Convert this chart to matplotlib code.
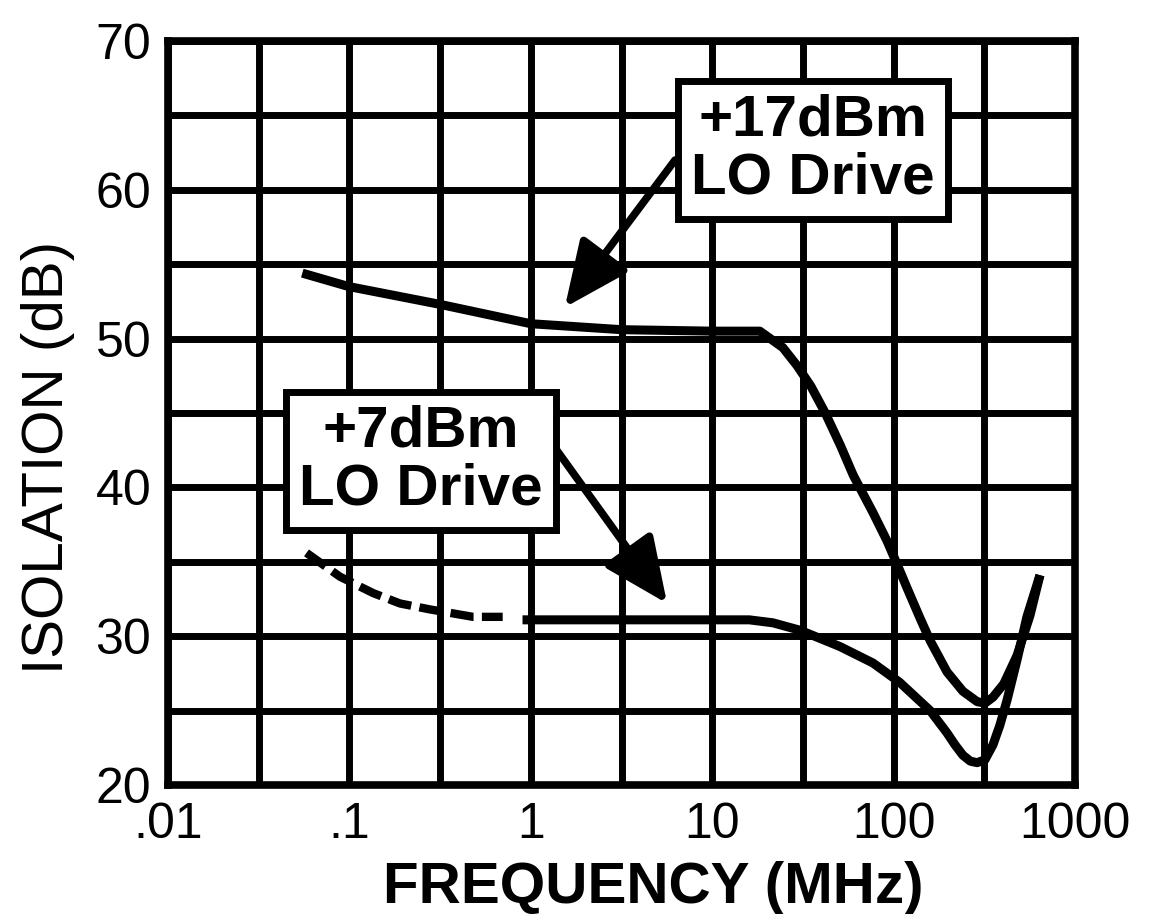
import matplotlib
matplotlib.use("Agg")
import numpy as np
import matplotlib.pyplot as plt
from matplotlib.ticker import FixedLocator, NullFormatter

plt.rcParams['font.family'] = ['Liberation Sans', 'DejaVu Sans']

# +17dBm LO drive
freq17 = [0.055, 0.099, 0.316, 1.0, 3.16, 10, 18.3, 24.5, 29.3, 35, 42, 51, 60, 77, 92,
          104, 119, 140, 159, 197, 241, 289, 319, 353, 405, 479, 565, 641]
iso17 = [54.4, 53.5, 52.3, 51.0, 50.6, 50.5, 50.5, 49.4, 48.2, 46.8, 45.0, 42.8, 40.8,
         38.3, 36.4, 34.9, 33.2, 31.2, 29.7, 27.6, 26.3, 25.6, 25.5, 25.9, 26.8, 28.7,
         31.4, 34.1]

# +7dBm LO drive (dashed below ~1MHz)
freq7_dash = [0.058, 0.0887, 0.135, 0.19, 0.278, 0.48, 0.70]
iso7_dash = [35.6, 34.0, 32.9, 32.2, 31.8, 31.3, 31.3]
freq7 = [0.90, 3.16, 10, 16, 21.6, 30.5, 50.7, 76.9, 108, 159, 197, 218, 241, 265, 289,
         319, 353, 385, 422, 479, 543, 641]
iso7 = [31.1, 31.1, 31.1, 31.1, 30.9, 30.4, 29.3, 28.2, 26.9, 25.0, 23.5, 22.7, 22.0,
        21.6, 21.5, 21.7, 22.7, 24.0, 25.7, 28.4, 31.3, 34.1]

xticks = [0.01, 0.1, 1, 10, 100, 1000]
xticklabels = ['.01', '.1', '1', '10', '100', '1000']
yticks = [20, 30, 40, 50, 60, 70]

fig = plt.figure(figsize=(11.58, 9.14), dpi=100)
ax = fig.add_axes([168/1158, 1-785/914, 907/1158, 744/914])

ax.plot(freq17, iso17, color='k', lw=6.5, solid_capstyle='butt', solid_joinstyle='round', zorder=3)
ax.plot(freq7, iso7, color='k', lw=6.5, solid_capstyle='butt', solid_joinstyle='round', zorder=3)
ax.plot(freq7_dash, iso7_dash, color='k', lw=6, dashes=(2.8, 1.0), zorder=3)

ax.set_xscale('log')
ax.set_xlim(0.01, 1000)
ax.set_ylim(20, 70)
ax.set_xticks(xticks)
ax.set_xticklabels(xticklabels)
ax.xaxis.set_minor_locator(FixedLocator([10**(k + 0.5) for k in range(-2, 3)]))
ax.xaxis.set_minor_formatter(NullFormatter())
ax.set_yticks(yticks)
ax.yaxis.set_minor_locator(FixedLocator([25, 35, 45, 55, 65]))

ax.grid(True, which='both', color='k', lw=5)
ax.set_axisbelow(True)
for s in ax.spines.values():
    s.set_linewidth(5.5)
ax.tick_params(which='both', length=0, labelsize=36)
ax.tick_params(axis='y', pad=12)
ax.tick_params(axis='x', pad=12)

ax.set_xlabel('FREQUENCY (MHz)', fontsize=42, fontweight='bold')
ax.xaxis.set_label_coords(0.535, -0.138)
ax.xaxis.label.set_va('center')
ax.set_ylabel('ISOLATION (dB)', fontsize=42)
ax.yaxis.set_label_coords(-0.132, 0.44)
ax.yaxis.label.set_va('center')

box = dict(boxstyle='square,pad=0.22', fc='white', ec='k', lw=5)
ax.text(36, 62.7, '+17dBm\nLO Drive', fontsize=42, fontweight='bold', ha='center',
        va='center', linespacing=1.1, bbox=box, zorder=5)
ax.text(0.248, 41.8, '+7dBm\nLO Drive', fontsize=42, fontweight='bold', ha='center',
        va='center', linespacing=1.1, bbox=box, zorder=5)

arrow = dict(arrowstyle='-|>,head_length=2.0,head_width=0.9', lw=5.5, color='k',
             mutation_scale=20, shrinkA=0, shrinkB=0)
ax.annotate('', xy=(1.54, 52.1), xytext=(6.24, 62.0), arrowprops=arrow, zorder=4)
ax.annotate('', xy=(5.64, 32.2), xytext=(1.39, 42.5), arrowprops=arrow, zorder=4)

fig.savefig('out.png', dpi=100)
